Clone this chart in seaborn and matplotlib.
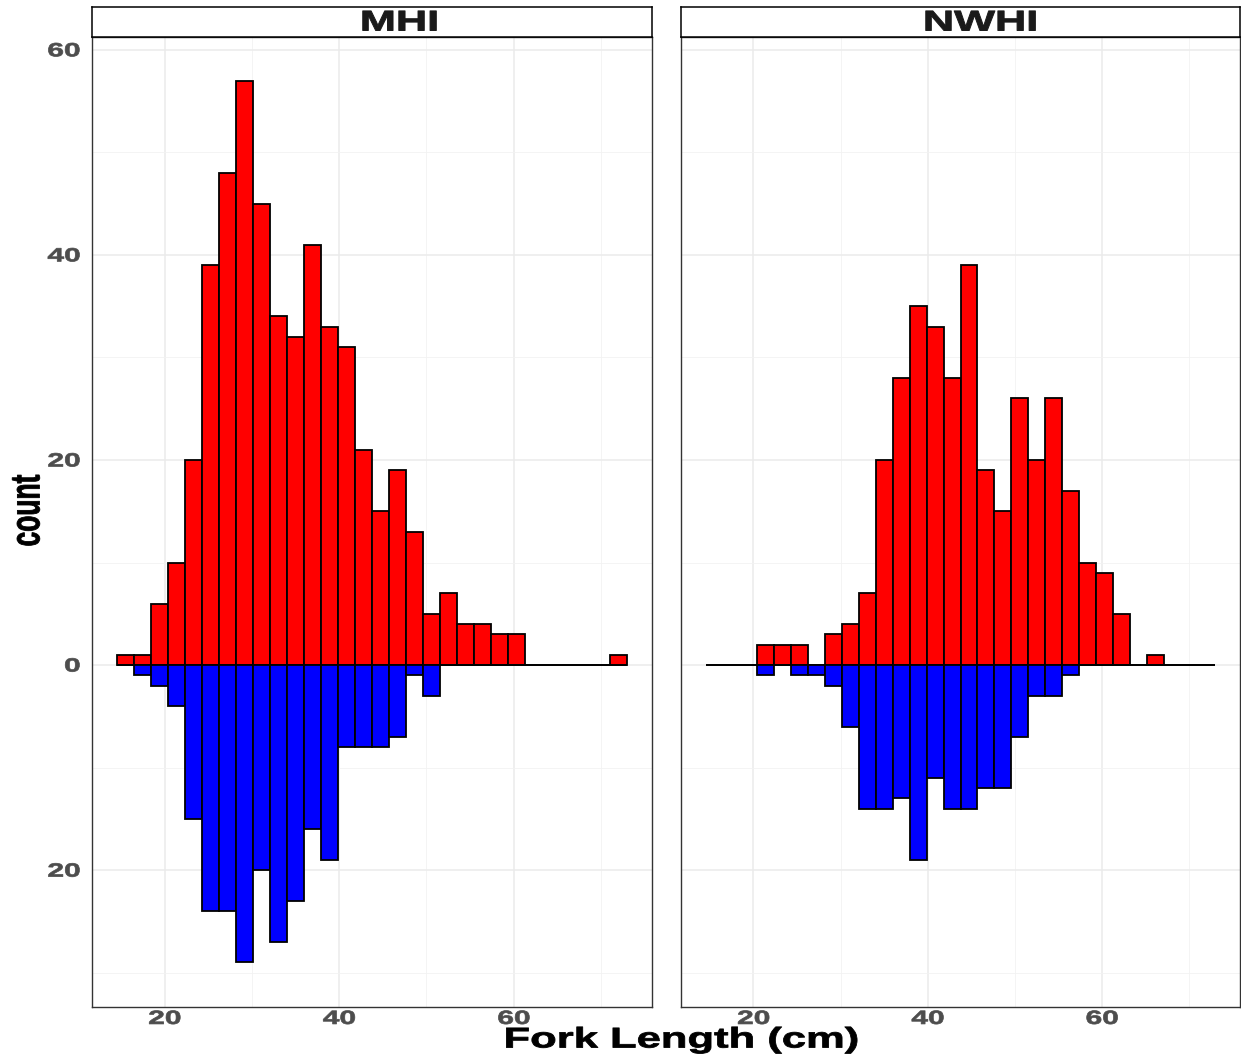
import numpy as np
import matplotlib
matplotlib.use("Agg")
import matplotlib.pyplot as plt
import matplotlib.patheffects as pe
from matplotlib.transforms import Affine2D
from matplotlib.ticker import FixedLocator
import seaborn as sns

# ---- data: fork length histogram, 30 equal-width bins (cm) ----
bin_start = 14.6
bin_width = 1.944
n_bins = 30

regions = ["MHI", "NWHI"]

# counts per bin; red series plotted upward, blue series plotted downward
mhi_red = [1, 1, 6, 10, 20, 39, 48, 57, 45, 34, 32, 41, 33, 31, 21,
           15, 19, 13, 5, 7, 4, 4, 3, 3, 0, 0, 0, 0, 0, 1]
mhi_blue = [0, 1, 2, 4, 15, 24, 24, 29, 20, 27, 23, 16, 19, 8, 8,
            8, 7, 1, 3, 0, 0, 0, 0, 0, 0, 0, 0, 0, 0, 0]
nwhi_red = [0, 0, 0, 2, 2, 2, 0, 3, 4, 7, 20, 28, 35, 33, 28,
            39, 19, 15, 26, 20, 26, 17, 10, 9, 5, 0, 1, 0, 0, 0]
nwhi_blue = [0, 0, 0, 1, 0, 1, 1, 2, 6, 14, 14, 13, 19, 11, 14,
             14, 12, 12, 7, 3, 3, 1, 0, 0, 0, 0, 0, 0, 0, 0]

x_ticks = [20, 40, 60]
y_ticks = [-20, 0, 20, 40, 60]
x_label = "Fork Length (cm)"
y_label = "count"

# ---- styling helpers ----
sns.set_style("white")
plt.rcParams["font.family"] = ["Liberation Sans", "DejaVu Sans"]


class Stretch(pe.AbstractPathEffect):
    """Scale glyph outlines in the text's own frame and embolden them."""

    def __init__(self, sx=1.0, sy=1.0, anchor=0.5, stroke=0.0):
        super().__init__()
        self.sx, self.sy, self.anchor, self.stroke = sx, sy, anchor, stroke

    def draw_path(self, renderer, gc, tpath, affine, rgbFace=None):
        v = tpath.vertices
        if len(v):
            x0, x1 = v[:, 0].min(), v[:, 0].max()
            y0, y1 = v[:, 1].min(), v[:, 1].max()
            cx = x0 + (x1 - x0) * self.anchor
            cy = 0.5 * (y0 + y1)
            affine = (Affine2D().translate(-cx, -cy)
                      .scale(self.sx, self.sy)
                      .translate(cx, cy) + affine)
        gc0 = renderer.new_gc()
        gc0.copy_properties(gc)
        if self.stroke > 0 and rgbFace is not None:
            gc0.set_linewidth(self.stroke)
            gc0.set_foreground(rgbFace)
            gc0.set_joinstyle("round")
        renderer.draw_path(gc0, tpath, affine, rgbFace)
        gc0.restore()


W, H = 1241, 1057
fig = plt.figure(figsize=(W / 100, H / 100), dpi=100)


def fx(px):
    return px / W


def fy(py):
    return 1 - py / H


panel_top, panel_bot = 36.5, 1006.5
strip_top = 7.0
panel_x = [(92, 652), (681, 1240)]
strip_text_x = [399, 980]

edges = bin_start + bin_width * np.arange(n_bins + 1)

series = {"MHI": (mhi_red, mhi_blue), "NWHI": (nwhi_red, nwhi_blue)}
centers = 0.5 * (edges[:-1] + edges[1:])

all_up = max(max(mhi_red), max(nwhi_red))
all_dn = max(max(mhi_blue), max(nwhi_blue))
xr = edges[-1] - edges[0]
yr = all_up + all_dn
xlim = (edges[0] - 0.05 * xr, edges[-1] + 0.05 * xr)
ylim = (-all_dn - 0.05 * yr, all_up + 0.05 * yr)

TICK_FS = 13.8
TICK_SX = 1.56
grey30 = "#4D4D4D"
grey20 = "#333333"

axes = []
for i, region in enumerate(regions):
    x0, x1 = panel_x[i]
    ax = fig.add_axes([fx(x0), fy(panel_bot), fx(x1) - fx(x0),
                       fy(panel_top) - fy(panel_bot)])
    axes.append(ax)
    red, blue = series[region]

    hist_kw = dict(bins=n_bins, binrange=(edges[0], edges[-1]),
                   edgecolor="black", linewidth=1.3, alpha=1.0, ax=ax,
                   zorder=3)
    sns.histplot(x=centers, weights=np.asarray(red, float),
                 color="#FF0000", **hist_kw)
    sns.histplot(x=centers, weights=-np.asarray(blue, float),
                 color="#0000FF", **hist_kw)

    ax.set_xlim(*xlim)
    ax.set_ylim(*ylim)
    ax.set_xlabel("")
    ax.set_ylabel("")

    ax.set_xticks(x_ticks)
    ax.set_xticklabels([str(t) for t in x_ticks])
    ax.set_yticks(y_ticks)
    ax.set_yticklabels([str(abs(t)) for t in y_ticks])
    ax.xaxis.set_minor_locator(FixedLocator([30, 50, 70]))
    ax.yaxis.set_minor_locator(FixedLocator([-30, -10, 10, 30, 50]))

    ax.set_axisbelow(True)
    ax.grid(which="major", color="#EBEBEB", linewidth=1.1, zorder=0)
    ax.grid(which="minor", color="#F2F2F2", linewidth=0.6, zorder=0)

    for sp in ax.spines.values():
        sp.set_color(grey20)
        sp.set_linewidth(1.0)
        sp.set_visible(True)

    ax.tick_params(axis="both", which="major", direction="out", length=3,
                   width=0.8, color=grey20, labelcolor=grey30,
                   labelsize=TICK_FS)
    ax.tick_params(axis="both", which="minor", length=0)
    ax.tick_params(axis="x", pad=0.2)
    ax.tick_params(axis="y", pad=5.5)
    if i > 0:
        ax.tick_params(axis="y", which="both", left=False, labelleft=False)

    for lbl in ax.get_xticklabels():
        lbl.set_fontweight("bold")
        lbl.set_path_effects([Stretch(sx=TICK_SX, anchor=0.5, stroke=0.5)])
    for lbl in ax.get_yticklabels():
        lbl.set_fontweight("bold")
        lbl.set_path_effects([Stretch(sx=TICK_SX, anchor=1.0, stroke=0.5)])

    # facet strip
    sax = fig.add_axes([fx(x0), fy(panel_top), fx(x1) - fx(x0),
                        fy(strip_top) - fy(panel_top)])
    sax.set_xticks([])
    sax.set_yticks([])
    sax.set_facecolor("white")
    for sp in sax.spines.values():
        sp.set_color("black")
        sp.set_linewidth(1.1)
        sp.set_visible(True)
    fig.text(fx(strip_text_x[i]), fy(30.5), region, ha="center",
             va="baseline", fontsize=20.5, fontweight="bold", color="#1A1A1A",
             path_effects=[Stretch(sx=1.52, anchor=0.5, stroke=0.7)])

fig.text(fx(681), fy(1047.5), x_label, ha="center", va="baseline",
         fontsize=20.5, fontweight="bold", color="black",
         path_effects=[Stretch(sx=1.53, anchor=0.5, stroke=0.6)])
fig.text(fx(27.5), fy(510.5), y_label, ha="center", va="center",
         rotation=90, fontsize=19, fontweight="bold", color="black",
         path_effects=[Stretch(sy=1.58, anchor=0.5, stroke=0.6)])

fig.savefig("out.png", dpi=100, facecolor="white")
